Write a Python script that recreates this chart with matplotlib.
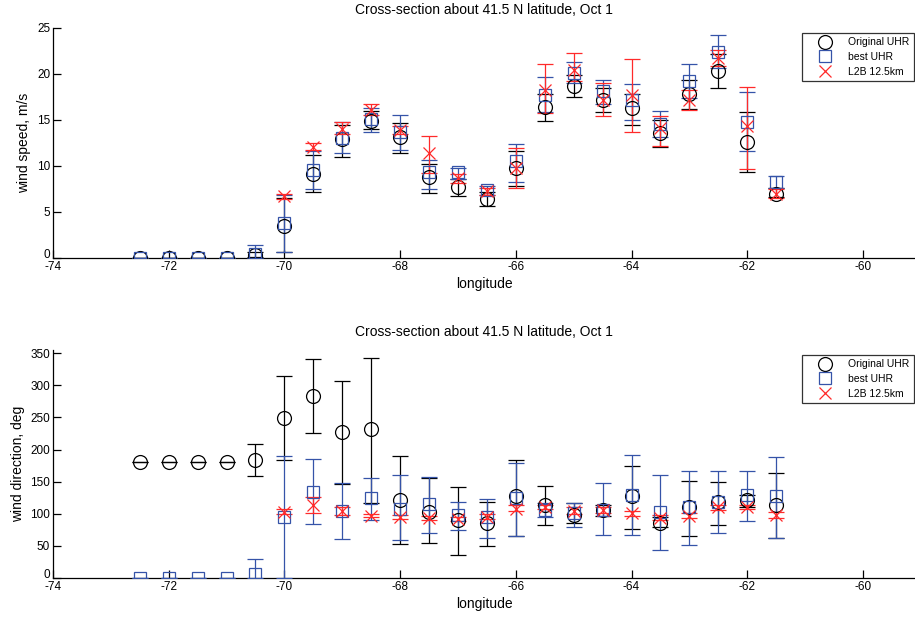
import numpy as np
import matplotlib
matplotlib.use("Agg")
import matplotlib.pyplot as plt
from matplotlib.lines import Line2D
import matplotlib.transforms as mtransforms

plt.rcParams['font.family'] = ['Liberation Sans', 'DejaVu Sans']

lon = [-72.5, -72, -71.5, -71, -70.5, -70, -69.5, -69, -68.5, -68, -67.5, -67,
       -66.5, -66, -65.5, -65, -64.5, -64, -63.5, -63, -62.5, -62, -61.5]
nan = float('nan')

# ---- wind speed (m/s): value, lower bound, upper bound ----
spd_orig    = [0, 0, 0, 0, 0.3, 3.5, 9.1, 12.9, 14.9, 13.2, 8.8, 7.7, 6.4, 9.8, 16.4, 18.7, 17.2, 16.3, 13.6, 17.8, 20.3, 12.6, 7.0]
spd_orig_lo = [0, 0, 0, 0, 0.1, 0.7, 7.2, 11.0, 14.0, 11.4, 7.1, 6.7, 5.7, 7.8, 14.9, 17.5, 15.9, 14.5, 12.1, 16.2, 18.5, 9.3, 6.6]
spd_orig_hi = [0, 0, 0, 0, 0.6, 6.5, 11.2, 14.5, 16.0, 14.7, 10.2, 8.6, 7.2, 11.6, 17.8, 19.9, 18.5, 17.8, 15.0, 19.4, 22.2, 15.9, 7.6]

spd_best    = [0, 0, 0, 0, 0.4, 3.8, 9.6, 13.0, 15.1, 13.7, 9.4, 9.4, 7.4, 10.5, 17.7, 20.1, 18.1, 17.2, 14.6, 19.2, 22.4, 14.8, 8.3]
spd_best_lo = [0, 0, 0, 0, 0.0, 0.7, 7.5, 11.4, 13.7, 11.7, 7.5, 8.6, 6.8, 8.3, 15.9, 19.0, 16.7, 15.0, 13.1, 17.4, 20.7, 11.6, 7.6]
spd_best_hi = [0, 0, 0, 0, 1.4, 6.9, 11.6, 14.8, 16.3, 15.5, 10.7, 9.8, 7.8, 12.4, 19.7, 21.3, 19.3, 18.9, 16.0, 21.1, 24.2, 18.0, 8.9]

spd_l2b     = [nan, nan, nan, nan, nan, 6.7, 12.1, 14.0, 16.1, 13.9, 11.4, 8.7, 7.3, 9.8, 18.3, 20.4, 17.2, 17.7, 14.1, 17.2, 21.7, 14.3, 7.0]
spd_l2b_lo  = [nan, nan, nan, nan, nan, 6.4, 11.7, 13.5, 15.5, 13.5, 9.2, 8.2, 6.9, 7.6, 15.8, 19.2, 15.4, 13.7, 12.2, 16.1, 20.9, 9.7, 6.5]
spd_l2b_hi  = [nan, nan, nan, nan, nan, 7.0, 12.5, 14.8, 16.7, 14.3, 13.3, 9.1, 7.6, 12.0, 21.1, 22.3, 19.0, 21.6, 15.4, 18.3, 22.6, 18.6, 7.5]

# ---- wind direction (deg): value, lower bound, upper bound ----
dir_orig    = [180, 180, 180, 180, 184, 249, 283, 228, 232, 122, 103, 90, 85, 127, 114, 98, 106, 128, 86, 110, 119, 121, 114]
dir_orig_lo = [180, 180, 180, 180, 159, 184, 226, 147, 116, 53, 54, 36, 50, 66, 82, 85, 97, 77, 80, 65, 82, 110, 62]
dir_orig_hi = [180, 180, 180, 180, 208, 315, 341, 307, 343, 190, 155, 142, 119, 183, 144, 117, 113, 174, 95, 151, 149, 130, 164]

dir_best    = [0, 0, 0, 0, 7, 95, 134, 104, 124, 108, 115, 98, 95, 124, 106, 101, 106, 129, 103, 110, 119, 129, 127]
dir_best_lo = [0, 0, 0, 0, 0, 0, 84, 61, 90, 59, 70, 75, 63, 66, 95, 80, 67, 67, 43, 51, 70, 88, 62]
dir_best_hi = [0, 0, 0, 0, 30, 190, 185, 148, 155, 160, 158, 118, 123, 179, 117, 116, 148, 192, 160, 167, 167, 167, 189]

dir_l2b     = [nan, nan, nan, nan, nan, 103, 113, 105, 97, 95, 93, 92, 95, 108, 110, 105, 106, 101, 94, 97, 110, 110, 98]
dir_l2b_lo  = [nan, nan, nan, nan, nan, 99, 101, 98, 95, 92, 91, 89, 92, 104, 107, 100, 101, 97, 90, 93, 106, 107, 94]
dir_l2b_hi  = [nan, nan, nan, nan, nan, 108, 126, 111, 100, 98, 96, 95, 99, 113, 113, 110, 111, 105, 98, 101, 114, 113, 102]

title_txt = "Cross-section about 41.5 N latitude, Oct 1"
xticks = [-74, -72, -70, -68, -66, -64, -62, -60]
series_names = ["Original UHR", "best UHR", "L2B 12.5km"]

BLACK = '#000000'
BLUE = '#3553A8'
RED = '#FF2A2A'

fig = plt.figure(figsize=(9.15, 6.19), dpi=100)
ax1 = fig.add_axes([53/915, 361/619, 1 - 53/915, 230/619])
ax2 = fig.add_axes([53/915, 41/619, 1 - 53/915, 228/619])


def draw(ax, vals, lo, hi, color, marker, ms):
    v = np.array(vals, dtype=float)
    l = np.array(lo, dtype=float)
    h = np.array(hi, dtype=float)
    ax.errorbar(lon, v, yerr=[v - l, h - v], fmt=marker, color=color, ecolor=color,
                mfc='none', mec=color, ms=ms, mew=0.9, elinewidth=0.9,
                capsize=6, capthick=0.9, zorder=3)


def style(ax, ylim, yticks, ylabel):
    ax.set_xlim(-74, -59.1)
    ax.set_ylim(*ylim)
    ax.set_xticks(xticks)
    ax.set_xticklabels([str(t) for t in xticks])
    ax.set_yticks(yticks)
    ax.set_yticklabels([str(t) for t in yticks])
    ax.spines['top'].set_visible(False)
    ax.spines['right'].set_visible(False)
    for s in ['left', 'bottom']:
        ax.spines[s].set_linewidth(0.9)
    ax.tick_params(direction='in', length=6, width=0.9, labelsize=8.5, pad=2)
    ax.set_xlabel("longitude", fontsize=10, labelpad=3)
    ax.set_ylabel(ylabel, fontsize=10, labelpad=4)
    ax.set_title(title_txt, fontsize=10, pad=10)
    handles = [
        Line2D([], [], ls='none', marker='o', mfc='none', mec=BLACK, ms=10, mew=0.9),
        Line2D([], [], ls='none', marker='s', mfc='none', mec=BLUE, ms=8.5, mew=0.9),
        Line2D([], [], ls='none', marker='x', color=RED, ms=8.5, mew=0.9),
    ]
    leg = ax.legend(handles, series_names, loc='upper right', bbox_to_anchor=(0.9985, 0.978),
                    fontsize=7.5, frameon=True, fancybox=False, borderpad=0.4,
                    labelspacing=0.45, handletextpad=0.5, handlelength=3.5, borderaxespad=0)
    leg.get_frame().set_edgecolor('black')
    leg.get_frame().set_linewidth(0.9)
    # nudge the "0" y tick label up slightly so it does not collide with "-74"
    lab0 = ax.get_yticklabels()[0]
    lab0.set_transform(lab0.get_transform() +
                       mtransforms.ScaledTranslation(0, 3/72, fig.dpi_scale_trans))


draw(ax1, spd_orig, spd_orig_lo, spd_orig_hi, BLACK, 'o', 10)
draw(ax1, spd_best, spd_best_lo, spd_best_hi, BLUE, 's', 8.5)
draw(ax1, spd_l2b, spd_l2b_lo, spd_l2b_hi, RED, 'x', 8.5)
style(ax1, (0, 25), [0, 5, 10, 15, 20, 25], "wind speed, m/s")

draw(ax2, dir_orig, dir_orig_lo, dir_orig_hi, BLACK, 'o', 10)
draw(ax2, dir_best, dir_best_lo, dir_best_hi, BLUE, 's', 8.5)
draw(ax2, dir_l2b, dir_l2b_lo, dir_l2b_hi, RED, 'x', 8.5)
style(ax2, (0, 355), [0, 50, 100, 150, 200, 250, 300, 350], "wind direction, deg")

fig.savefig("out.png", dpi=100)
